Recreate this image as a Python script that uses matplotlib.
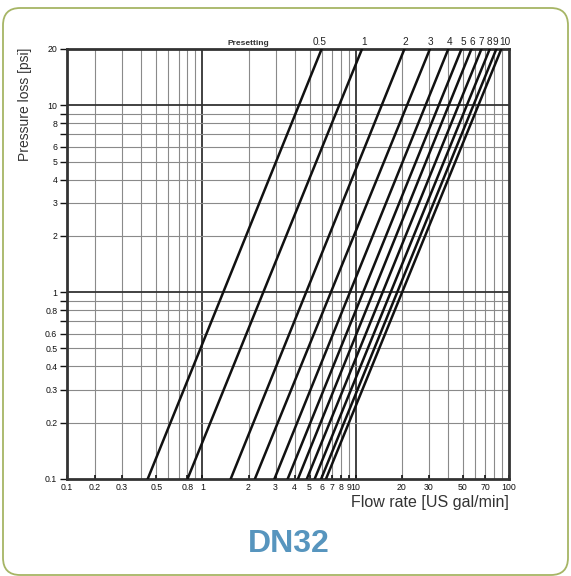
#!/usr/bin/env python3
import matplotlib
matplotlib.use('Agg')
import matplotlib.pyplot as plt
from matplotlib.patches import FancyBboxPatch

plt.rcParams['font.family'] = ['Liberation Sans', 'DejaVu Sans']

# presetting curves, read where each one leaves the chart (0.1 psi and 20 psi)
presettings = ['0.5', '1', '2', '3', '4', '5', '6', '7', '8', '9', '10']
flow_at_bottom = [0.44, 0.80, 1.53, 2.2, 2.95, 3.6, 4.2, 4.8, 5.4, 5.95, 6.4]
flow_at_top = [6.0, 11.0, 20.8, 30.5, 40.2, 49.0, 56.9, 66.1, 74.9, 82.7, 89.1]
# where the presetting labels sit above the frame (flow units)
label_flow = [5.83, 11.4, 21.1, 30.6, 40.8, 50.1, 57.5, 65.9, 74.0, 82.0, 94.5]
dp_bottom = 0.1
dp_top = 20

# axes ticks / grid
x_grid = [0.2, 0.3, 0.4, 0.5, 0.6, 0.7, 0.8, 0.9, 1, 2, 3, 4, 5, 6, 7, 8, 9,
          10, 20, 30, 40, 50, 60, 70, 80, 90]
x_ticks = [0.131, 0.2, 0.3, 0.5, 0.8, 1, 2, 3, 4, 5, 6, 7, 8, 9, 10, 20, 30, 50, 70, 100]
x_labels = ['0.1', '0.2', '0.3', '0.5', '0.8', '1', '2', '3', '4', '5', '6', '7', '8',
            '9', '10', '20', '30', '50', '70', '100']
y_grid = [0.2, 0.3, 0.4, 0.5, 0.6, 0.7, 0.8, 0.9, 1, 2, 3, 4, 5, 6, 7, 8, 9, 10]
y_ticks = [0.1, 0.2, 0.3, 0.4, 0.5, 0.6, 0.7, 0.8, 0.9, 1, 2, 3, 4, 5, 6, 7, 8, 9, 10, 20]
y_labels = ['0.1', '0.2', '0.3', '0.4', '0.5', '0.6', '', '0.8', '', '1', '2', '3', '4',
            '5', '6', '', '8', '', '10', '20']

fig = plt.figure(figsize=(5.71, 5.76), dpi=100)
ax = fig.add_axes([67/571, 1 - 479/576, 442/571, 430/576])
ax.set_xscale('log')
ax.set_yscale('log')
ax.set_xlim(0.131, 100)
ax.set_ylim(0.1, 20)

# grid lines, decades darker
for x in x_grid:
    heavy = x in (1, 10)
    ax.axvline(x, color='#333333' if heavy else '#8a8a8a', lw=1.3 if heavy else 0.8, zorder=1)
for y in y_grid:
    heavy = y in (1, 10)
    ax.axhline(y, color='#333333' if heavy else '#8a8a8a', lw=1.3 if heavy else 0.8, zorder=1)

for q0, q1 in zip(flow_at_bottom, flow_at_top):
    ax.plot([q0, q1], [dp_bottom, dp_top], color='#111111', lw=1.8, zorder=3)
for lab, qx in zip(presettings, label_flow):
    ax.text(qx, 20.6, lab, ha='center', va='bottom', fontsize=7.2, color='#222222')
ax.text(2.0, 20.6, 'Presetting', ha='center', va='bottom', fontsize=6,
        fontweight='bold', color='#333333')

ax.minorticks_off()
ax.set_xticks(x_ticks)
ax.set_xticklabels(x_labels)
ax.set_yticks(y_ticks)
ax.set_yticklabels(y_labels)
ax.tick_params(axis='x', direction='in', length=3, width=1.2, labelsize=6.3,
               colors='#111111', pad=3)
ax.tick_params(axis='y', direction='out', length=5, width=1, labelsize=6.3,
               colors='#111111', pad=2)
for s in ax.spines.values():
    s.set_linewidth(2)
    s.set_color('#333333')

fig.text(25/571, 1 - 48/576, 'Pressure loss [psi]', rotation=90, ha='center', va='top',
         fontsize=10, color='#333333')
fig.text(509/571, 1 - 503/576, 'Flow rate [US gal/min]', ha='right', va='center',
         fontsize=11.5, color='#333333')
fig.text(289/571, 1 - 544/576, 'DN32', ha='center', va='center', fontsize=23,
         fontweight='bold', color='#5795be')

# rounded frame around everything
box = FancyBboxPatch((3/571, 1 - 575/576), 565/571, 567/576,
                     boxstyle='round,pad=0,rounding_size=0.03',
                     transform=fig.transFigure, fill=False,
                     edgecolor='#a6b565', lw=1.3)
fig.patches.append(box)

fig.savefig('out.png', dpi=100)
